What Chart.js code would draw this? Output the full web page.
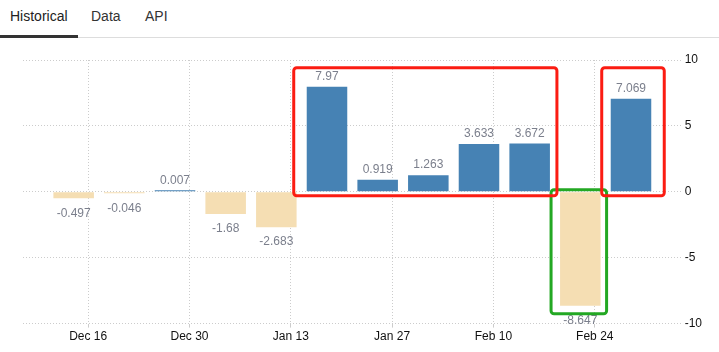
<!DOCTYPE html>
<html>
<head>
<meta charset="utf-8">
<script src="https://cdn.jsdelivr.net/npm/chart.js@4.4.1/dist/chart.umd.min.js"></script>
<style>
  html, body { margin: 0; padding: 0; background: #fff; }
  body { width: 719px; height: 352px; position: relative; overflow: hidden; font-family: "Liberation Sans", Arial, sans-serif; }
  .tabs { position: absolute; left: 0; top: 0; width: 719px; height: 37px; border-bottom: 1px solid #ddd; }
  .tab { position: absolute; top: 8px; font-size: 14px; color: #333; }
  .tab.active { color: #222; }
  .tabline { position: absolute; left: 0; top: 35px; width: 78px; height: 3px; background: #333; }
  #wrap { position: absolute; left: 0; top: 38px; width: 719px; height: 314px; }
</style>
</head>
<body>
<div class="tabs">
  <span class="tab active" style="left:10px">Historical</span>
  <span class="tab" style="left:91px">Data</span>
  <span class="tab" style="left:145px">API</span>
  <div class="tabline"></div>
</div>
<div id="wrap"><canvas id="chart"></canvas></div>
<script>
const weeks = ['2024-12-14', '2024-12-21', '2024-12-28', '2025-01-04', '2025-01-11', '2025-01-18',
               '2025-01-25', '2025-02-01', '2025-02-08', '2025-02-15', '2025-02-22', '2025-03-01'];
const values = [-0.497, -0.046, 0.007, -1.68, -2.683, 7.97, 0.919, 1.263, 3.633, 3.672, -8.647, 7.069];
const tickDates = ['2024-12-16', '2024-12-30', '2025-01-13', '2025-01-27', '2025-02-10', '2025-02-24'];
const yTicks = [-10, -5, 0, 5, 10];
// which bars are boxed in the picture
const redGroups = [[5, 9], [11, 11]];
const greenGroups = [[10, 10]];

const months = ['Jan', 'Feb', 'Mar', 'Apr', 'May', 'Jun', 'Jul', 'Aug', 'Sep', 'Oct', 'Nov', 'Dec'];
const origin = Date.parse(tickDates[0]);
const dayOf = d => (Date.parse(d) - origin) / 864e5;
const fmt = d => { const t = new Date(d); return months[t.getUTCMonth()] + ' ' + t.getUTCDate(); };

const points = weeks.map((w, i) => ({ x: dayOf(w), y: values[i] }));

const valueLabels = {
    id: 'valueLabels',
    afterDatasetsDraw(chart) {
        const ctx = chart.ctx;
        const meta = chart.getDatasetMeta(0);
        ctx.save();
        ctx.font = '12px "Liberation Sans", Arial, sans-serif';
        ctx.fillStyle = '#7b7f8c';
        ctx.textAlign = 'center';
        meta.data.forEach((bar, i) => {
            const v = values[i];
            if (v >= 0) {
                ctx.textBaseline = 'bottom';
                ctx.fillText(String(v), bar.x, bar.y - 4);
            } else {
                ctx.textBaseline = 'top';
                ctx.fillText(String(v), bar.x, bar.y + 9);
            }
        });
        ctx.restore();
    }
};

function box(ctx, l, t, r, b, color) {
    ctx.strokeStyle = color;
    ctx.lineWidth = 3;
    ctx.beginPath();
    ctx.roundRect(l, t, r - l, b - t, 3);
    ctx.stroke();
}

const boxes = {
    id: 'boxes',
    afterDraw(chart) {
        const ctx = chart.ctx;
        const bars = chart.getDatasetMeta(0).data;
        const y = chart.scales.y;
        const zero = y.getPixelForValue(0);
        const top = y.getPixelForValue(Math.max(...values)) - 19;
        ctx.save();
        greenGroups.forEach(([a, b]) => {
            const lo = bars[a], hi = bars[b];
            box(ctx, lo.x - lo.width / 2 - 9, zero - 2, hi.x + hi.width / 2 + 6,
                Math.max(lo.y, hi.y) + 8, '#23a823');
        });
        redGroups.forEach(([a, b]) => {
            const lo = bars[a], hi = bars[b];
            const padR = a === b ? 13 : 7;
            box(ctx, lo.x - lo.width / 2 - (a === b ? 9 : 13), top, hi.x + hi.width / 2 + padR,
                zero + 4, '#fb1c12');
        });
        ctx.restore();
    }
};

new Chart(document.getElementById('chart').getContext('2d'), {
    type: 'bar',
    data: {
        datasets: [{
            data: points,
            backgroundColor: values.map(v => v >= 0 ? '#4682b4' : '#f5deb3'),
            categoryPercentage: 1,
            barPercentage: 0.8,
            minBarLength: 1.5
        }]
    },
    options: {
        responsive: true,
        maintainAspectRatio: false,
        animation: false,
        layout: { padding: { left: 23, right: 14, top: 22, bottom: 6 } },
        plugins: { legend: { display: false }, tooltip: { enabled: false } },
        scales: {
            x: {
                type: 'linear',
                offset: false,
                min: dayOf('2024-12-07'),
                max: dayOf('2025-03-08'),
                afterBuildTicks: s => { s.ticks = tickDates.map(d => ({ value: dayOf(d) })); },
                ticks: {
                    callback: (v) => fmt(origin + v * 864e5),
                    color: '#111',
                    font: { family: '"Liberation Sans", Arial, sans-serif', size: 12 },
                    maxRotation: 0,
                    padding: 2
                },
                grid: { color: '#cccccc', tickLength: 4, offset: false },
                border: { display: false, dash: [1, 2] }
            },
            y: {
                position: 'right',
                min: -10,
                max: 10,
                afterBuildTicks: s => { s.ticks = yTicks.map(v => ({ value: v })); },
                ticks: {
                    color: '#111',
                    font: { family: '"Liberation Sans", Arial, sans-serif', size: 12 },
                    padding: 3
                },
                grid: { color: '#cccccc', drawTicks: false },
                border: { display: false, dash: [1, 2] }
            }
        }
    },
    plugins: [valueLabels, boxes]
});
</script>
</body>
</html>
